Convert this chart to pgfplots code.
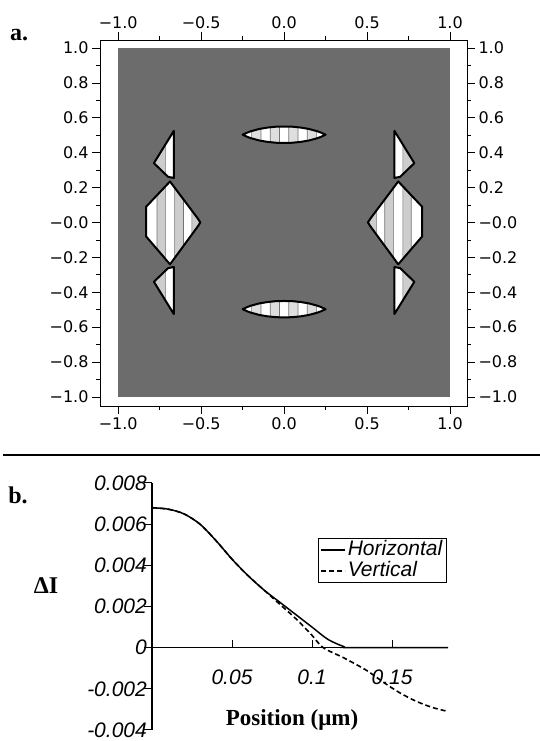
\documentclass[border=0pt]{standalone}
\usepackage{fontspec}
\setmainfont{Liberation Serif}
\newfontfamily\dejavu{DejaVu Sans}
\newfontfamily\arial{Liberation Sans}
\usepackage{pgfplots}
\pgfplotsset{compat=1.18}
\definecolor{bg}{RGB}{108,108,108}
\definecolor{band}{RGB}{205,205,205}
\definecolor{lband}{RGB}{222,222,222}
\definecolor{sep}{RGB}{115,115,115}
\begin{document}
\begin{tikzpicture}
\path[use as bounding box] (0bp,0bp) rectangle (540bp,741bp);
% ---------------- panel a ----------------
\begin{axis}[
  anchor=south west, at={(100bp,335bp)},
  width=367bp, height=366bp, scale only axis,
  xmin=-1.110, xmax=1.1025, ymin=-1.052, ymax=1.046,
  axis line style={line width=0.9bp},
  tick align=outside, major tick length=8bp, minor tick length=4bp,
  every tick/.style={black, line width=0.8bp},
  xtick={-1,-0.5,0,0.5,1}, xticklabels={−1.0,−0.5,0.0,0.5,1.0},
  ytick={-1,-0.8,-0.6,-0.4,-0.2,0,0.2,0.4,0.6,0.8,1},
  yticklabels={−1.0,−0.8,−0.6,−0.4,−0.2,−0.0,0.2,0.4,0.6,0.8,1.0},
  minor x tick num=1, minor y tick num=1,
  xticklabel pos=lower, yticklabel pos=left,
  tick label style={font=\dejavu\fontsize{16bp}{18bp}\selectfont},
  shape/.style={fill=white, draw=none},
  outl/.style={draw=black, line width=2bp, line join=round},
  strp/.style={fill=band, draw=sep, line width=0.7bp},
  lstrp/.style={fill=lband, draw=sep, line width=0.7bp},
]
\addplot[fill=bg, draw=none] coordinates {(-1,-1) (1,-1) (1,1) (-1,1)} -- cycle;
% white shapes
\addplot[shape] coordinates {(-0.832,0.09) (-0.688,0.235) (-0.52,0.022) (-0.505,0) (-0.52,-0.022) (-0.688,-0.24) (-0.832,-0.08)} -- cycle;
\addplot[shape] coordinates {(0.832,0.09) (0.688,0.235) (0.52,0.022) (0.505,0) (0.52,-0.022) (0.688,-0.24) (0.832,-0.08)} -- cycle;
\addplot[shape] coordinates {(-0.785,0.34) (-0.665,0.525) (-0.665,0.255) (-0.70,0.262)} -- cycle;
\addplot[shape] coordinates {(-0.785,-0.34) (-0.665,-0.525) (-0.665,-0.255) (-0.70,-0.262)} -- cycle;
\addplot[shape] coordinates {(0.785,0.34) (0.665,0.525) (0.665,0.255) (0.70,0.262)} -- cycle;
\addplot[shape] coordinates {(0.785,-0.34) (0.665,-0.525) (0.665,-0.255) (0.70,-0.262)} -- cycle;
\addplot[shape] coordinates {(-0.25,0.503) (-0.22,0.516) (-0.2,0.523) (-0.15,0.536) (-0.1,0.544) (-0.05,0.549) (0,0.550) (0.05,0.549) (0.1,0.544) (0.15,0.536) (0.2,0.523) (0.22,0.516) (0.25,0.503) (0.22,0.490) (0.2,0.483) (0.15,0.470) (0.1,0.462) (0.05,0.457) (0,0.456) (-0.05,0.457) (-0.1,0.462) (-0.15,0.470) (-0.2,0.483) (-0.22,0.490)} -- cycle;
\addplot[shape] coordinates {(-0.25,-0.497) (-0.22,-0.484) (-0.2,-0.477) (-0.15,-0.464) (-0.1,-0.456) (-0.05,-0.451) (0,-0.450) (0.05,-0.451) (0.1,-0.456) (0.15,-0.464) (0.2,-0.477) (0.22,-0.484) (0.25,-0.497) (0.22,-0.510) (0.2,-0.517) (0.15,-0.530) (0.1,-0.538) (0.05,-0.543) (0,-0.544) (-0.05,-0.543) (-0.1,-0.538) (-0.15,-0.530) (-0.2,-0.517) (-0.22,-0.510)} -- cycle;
% stripes: diamonds
\addplot[strp] coordinates {(-0.766,-0.153) (-0.716,-0.209) (-0.716,0.207) (-0.766,0.156)} -- cycle;
\addplot[strp] coordinates {(-0.66,-0.204) (-0.607,-0.135) (-0.607,0.132) (-0.66,0.200)} -- cycle;
\addplot[strp] coordinates {(-0.556,-0.069) (-0.52,-0.022) (-0.505,0) (-0.52,0.022) (-0.556,0.068)} -- cycle;
\addplot[strp] coordinates {(0.556,-0.069) (0.52,-0.022) (0.505,0) (0.52,0.022) (0.556,0.068)} -- cycle;
\addplot[strp] coordinates {(0.607,-0.135) (0.66,-0.204) (0.66,0.200) (0.607,0.132)} -- cycle;
\addplot[strp] coordinates {(0.716,-0.209) (0.766,-0.153) (0.766,0.156) (0.716,0.207)} -- cycle;
% stripes: triangles
\addplot[strp] coordinates {(-0.785,0.34) (-0.716,0.277) (-0.716,0.446)} -- cycle;
\addplot[strp] coordinates {(-0.785,-0.34) (-0.716,-0.277) (-0.716,-0.446)} -- cycle;
\addplot[strp] coordinates {(0.785,0.34) (0.716,0.277) (0.716,0.446)} -- cycle;
\addplot[strp] coordinates {(0.785,-0.34) (0.716,-0.277) (0.716,-0.446)} -- cycle;
% stripes: lenses
\addplot[lstrp] coordinates {(0.028,0.4566) (0.05,0.457) (0.084,0.4604) (0.084,0.5456) (0.05,0.549) (0.028,0.5494)} -- cycle;
\addplot[lstrp] coordinates {(0.14,0.4684) (0.15,0.470) (0.196,0.482) (0.196,0.524) (0.15,0.536) (0.14,0.5376)} -- cycle;
\addplot[lstrp] coordinates {(-0.028,0.4566) (-0.05,0.457) (-0.084,0.4604) (-0.084,0.5456) (-0.05,0.549) (-0.028,0.5494)} -- cycle;
\addplot[lstrp] coordinates {(-0.14,0.4684) (-0.15,0.470) (-0.196,0.482) (-0.196,0.524) (-0.15,0.536) (-0.14,0.5376)} -- cycle;
\addplot[lstrp] coordinates {(0.028,-0.5434) (0.05,-0.543) (0.084,-0.5396) (0.084,-0.4544) (0.05,-0.451) (0.028,-0.4506)} -- cycle;
\addplot[lstrp] coordinates {(0.14,-0.5316) (0.15,-0.530) (0.196,-0.518) (0.196,-0.476) (0.15,-0.464) (0.14,-0.4624)} -- cycle;
\addplot[lstrp] coordinates {(-0.028,-0.5434) (-0.05,-0.543) (-0.084,-0.5396) (-0.084,-0.4544) (-0.05,-0.451) (-0.028,-0.4506)} -- cycle;
\addplot[lstrp] coordinates {(-0.14,-0.5316) (-0.15,-0.530) (-0.196,-0.518) (-0.196,-0.476) (-0.15,-0.464) (-0.14,-0.4624)} -- cycle;
% outlines
\addplot[outl] coordinates {(-0.832,0.09) (-0.688,0.235) (-0.52,0.022) (-0.505,0) (-0.52,-0.022) (-0.688,-0.24) (-0.832,-0.08)} -- cycle;
\addplot[outl] coordinates {(0.832,0.09) (0.688,0.235) (0.52,0.022) (0.505,0) (0.52,-0.022) (0.688,-0.24) (0.832,-0.08)} -- cycle;
\addplot[outl] coordinates {(-0.785,0.34) (-0.665,0.525) (-0.665,0.255) (-0.70,0.262)} -- cycle;
\addplot[outl] coordinates {(-0.785,-0.34) (-0.665,-0.525) (-0.665,-0.255) (-0.70,-0.262)} -- cycle;
\addplot[outl] coordinates {(0.785,0.34) (0.665,0.525) (0.665,0.255) (0.70,0.262)} -- cycle;
\addplot[outl] coordinates {(0.785,-0.34) (0.665,-0.525) (0.665,-0.255) (0.70,-0.262)} -- cycle;
\addplot[outl] coordinates {(-0.25,0.503) (-0.22,0.516) (-0.2,0.523) (-0.15,0.536) (-0.1,0.544) (-0.05,0.549) (0,0.550) (0.05,0.549) (0.1,0.544) (0.15,0.536) (0.2,0.523) (0.22,0.516) (0.25,0.503) (0.22,0.490) (0.2,0.483) (0.15,0.470) (0.1,0.462) (0.05,0.457) (0,0.456) (-0.05,0.457) (-0.1,0.462) (-0.15,0.470) (-0.2,0.483) (-0.22,0.490)} -- cycle;
\addplot[outl] coordinates {(-0.25,-0.497) (-0.22,-0.484) (-0.2,-0.477) (-0.15,-0.464) (-0.1,-0.456) (-0.05,-0.451) (0,-0.450) (0.05,-0.451) (0.1,-0.456) (0.15,-0.464) (0.2,-0.477) (0.22,-0.484) (0.25,-0.497) (0.22,-0.510) (0.2,-0.517) (0.15,-0.530) (0.1,-0.538) (0.05,-0.543) (0,-0.544) (-0.05,-0.543) (-0.1,-0.538) (-0.15,-0.530) (-0.2,-0.517) (-0.22,-0.510)} -- cycle;
\end{axis}
% labels on top and right
\begin{axis}[
  anchor=south west, at={(100bp,335bp)},
  width=367bp, height=366bp, scale only axis,
  xmin=-1.110, xmax=1.1025, ymin=-1.052, ymax=1.046,
  axis line style={draw=none},
  tick align=outside, major tick length=8bp,
  major tick style={draw=none}, minor tick style={draw=none},
  xtick={-1,-0.5,0,0.5,1}, xticklabels={−1.0,−0.5,0.0,0.5,1.0},
  ytick={-1,-0.8,-0.6,-0.4,-0.2,0,0.2,0.4,0.6,0.8,1},
  yticklabels={−1.0,−0.8,−0.6,−0.4,−0.2,−0.0,0.2,0.4,0.6,0.8,1.0},
  xticklabel pos=upper, yticklabel pos=right,
  tick label style={font=\dejavu\fontsize{16bp}{18bp}\selectfont},
]
\addplot[draw=none] coordinates {(0,0) (0.5,0.5)};
\end{axis}
\node[font=\bfseries\fontsize{24bp}{24bp}\selectfont] at (19bp,706bp) {a.};
\draw[line width=2.2bp] (3bp,286bp) -- (540bp,286bp);
% ---------------- panel b ----------------
\node[font=\bfseries\fontsize{24bp}{24bp}\selectfont] at (18bp,246bp) {b.};
\node[font=\bfseries\fontsize{24bp}{24bp}\selectfont] at (46bp,155bp) {ΔI};
\node[font=\bfseries\fontsize{23bp}{23bp}\selectfont] at (292bp,21bp) {Position (μm)};
\begin{axis}[
  anchor=south west, at={(152bp,11bp)},
  width=296bp, height=247bp, scale only axis,
  xmin=0, xmax=0.185, ymin=-0.004, ymax=0.008,
  axis x line=middle, axis y line=left,
  axis line style={-, line width=1.2bp},
  scaled ticks=false, hide obscured y ticks=false, hide obscured x ticks=false,
  xtick={0.05,0.1,0.15}, xticklabels={0.05,0.1,0.15},
  ytick={-0.004,-0.002,0,0.002,0.004,0.006,0.008},
  yticklabels={-0.004,-0.002,0,0.002,0.004,0.006,0.008},
  tick align=center, major tick length=8bp,
  every tick/.style={black, line width=1bp},
  every major x tick/.append style={yshift=4bp},
  every major y tick/.append style={xshift=-4bp},
  tick label style={font=\arial\itshape\fontsize{21bp}{24bp}\selectfont},
  xticklabel style={yshift=-15bp},
  yticklabel style={inner sep=1bp},
  legend style={at={(0.56,0.777)}, anchor=north west, draw=black, line width=0.8bp,
    font=\arial\itshape\fontsize{21bp}{22bp}\selectfont, inner xsep=2bp, inner ysep=1bp, row sep=0bp,
    nodes={inner xsep=2bp, inner ysep=1bp, text height=15bp, text depth=4bp}},
  legend cell align=left,
  legend image code/.code={\draw[#1] (0bp,0bp) -- (24bp,0bp);},
]
\addplot[black, line width=1.5bp, smooth] coordinates {
(0,0.0068) (0.01,0.00673) (0.02,0.0065) (0.03,0.0060) (0.04,0.0052) (0.05,0.0043)
(0.06,0.0035) (0.07,0.0028) (0.08,0.0022) (0.09,0.0016) (0.10,0.0010) (0.11,0.0004)
(0.12,0.00005) (0.125,0) (0.185,0)};
\addlegendentry{Horizontal}
\addplot[black, line width=1.6bp, dash pattern=on 5bp off 3bp, smooth] coordinates {
(0,0.0068) (0.01,0.00673) (0.02,0.0065) (0.03,0.0060) (0.04,0.0052) (0.05,0.0043)
(0.06,0.0035) (0.07,0.0028) (0.08,0.0021) (0.09,0.0014) (0.10,0.0006) (0.107,0.0)
(0.12,-0.0005) (0.134,-0.0011) (0.145,-0.0017) (0.155,-0.0022) (0.165,-0.0026)
(0.175,-0.0029) (0.185,-0.0031)};
\addlegendentry{Vertical}
\end{axis}
\end{tikzpicture}
\end{document}
